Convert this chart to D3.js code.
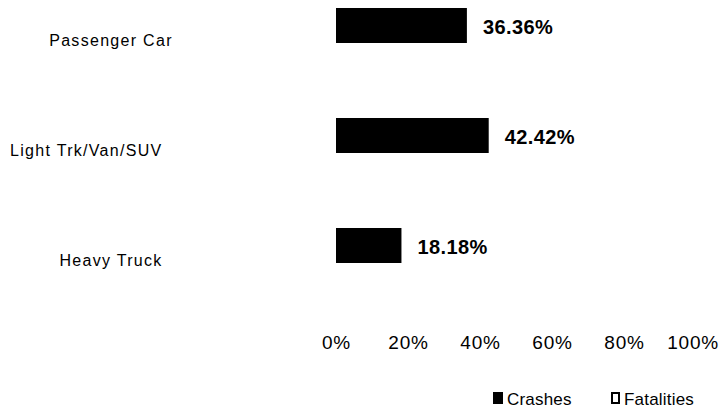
<!DOCTYPE html>
<html>
<head>
<meta charset="utf-8">
<script src="https://cdn.jsdelivr.net/npm/d3@7"></script>
<style>
  html, body { margin: 0; padding: 0; background: #fff; }
  svg { display: block; font-family: Arial, "Liberation Sans", sans-serif; }
</style>
</head>
<body>
<svg id="chart" width="721" height="408"></svg>
<script>
// Share of vehicle types involved in crashes vs. fatalities
const categories = ["Passenger Car", "Light Trk/Van/SUV", "Heavy Truck"];
const seriesNames = ["Crashes", "Fatalities"];
const crashes = [36.36, 42.42, 18.18];
const fatalities = [0, 0, 0];
const tickValues = [0, 20, 40, 60, 80, 100];

const svg = d3.select("#chart");
const W = 721, H = 408;

const x = d3.scaleLinear().domain([0, 100]).range([336, 696]);

// one band per vehicle type, split into the two series
const y0 = d3.scaleBand().domain(categories)
  .range([-12, 318]).paddingInner(0.3636).paddingOuter(0.1818);
const y1 = d3.scaleBand().domain(seriesNames).range([0, y0.bandwidth()]);

const fills = { Crashes: "#000", Fatalities: "#fff" };

const rows = categories.map((c, i) => ({
  category: c,
  values: [
    { series: "Crashes", value: crashes[i] },
    { series: "Fatalities", value: fatalities[i] }
  ]
}));

const groups = svg.append("g").selectAll("g")
  .data(rows).join("g")
  .attr("transform", d => `translate(0,${y0(d.category)})`);

groups.selectAll("rect")
  .data(d => d.values).join("rect")
  .attr("x", x(0))
  .attr("y", d => y1(d.series))
  .attr("width", d => x(d.value) - x(0))
  .attr("height", y1.bandwidth())
  .attr("fill", d => fills[d.series]);

// value labels on the crash bars
groups.selectAll("text.val")
  .data(d => d.values.filter(v => v.series === "Crashes"))
  .join("text")
  .attr("class", "val")
  .attr("x", d => x(d.value) + 16)
  .attr("y", d => y1(d.series) + y1.bandwidth() / 2)
  .attr("dy", "0.42em")
  .attr("font-size", 20)
  .attr("font-weight", "bold")
  .attr("letter-spacing", 0.4)
  .attr("fill", "#000")
  .text(d => d.value.toFixed(2) + "%");

// category labels, centred in the left margin; long ones start at the edge
const catG = svg.append("g");
categories.forEach(c => {
  const t = catG.append("text")
    .attr("y", y0(c) + y0.bandwidth() / 2)
    .attr("dy", "0.16em")
    .attr("font-size", 16)
    .attr("letter-spacing", 1.3)
    .attr("fill", "#000")
    .text(c);
  const w = t.node().getComputedTextLength();
  if (w > 130) t.attr("x", 10).attr("text-anchor", "start");
  else t.attr("x", 111 - w / 2).attr("text-anchor", "start");
});

// value axis along the bottom, labels only
const axis = svg.append("g")
  .attr("transform", "translate(0,330)")
  .call(d3.axisBottom(x).tickValues(tickValues).tickSize(0).tickPadding(0)
    .tickFormat(d => d + "%"));
axis.select(".domain").remove();
axis.selectAll("text")
  .attr("font-size", 19)
  .attr("letter-spacing", 0.8)
  .attr("font-family", "Arial, 'Liberation Sans', sans-serif")
  .attr("fill", "#000")
  .attr("dy", "1.0em")
  .each(function () {
    // keep the last label inside the canvas
    const bb = this.getBBox();
    const tr = d3.select(this.parentNode).attr("transform");
    const tx = +tr.match(/translate\(([-\d.]+)/)[1];
    const right = tx + bb.x + bb.width;
    if (right > W - 2) d3.select(this).attr("x", (W - 2) - right);
  });

// legend
const legend = svg.append("g");
const legendItems = [
  { name: "Crashes", x: 493 },
  { name: "Fatalities", x: 611 }
];
legendItems.forEach(item => {
  if (item.name === "Crashes") {
    legend.append("rect")
      .attr("x", item.x).attr("y", 392).attr("width", 10).attr("height", 12)
      .attr("fill", "#000");
  } else {
    legend.append("rect")
      .attr("x", item.x + 1).attr("y", 393).attr("width", 7).attr("height", 10)
      .attr("fill", "#fff").attr("stroke", "#000").attr("stroke-width", 2);
  }
  legend.append("text")
    .attr("x", item.x + (item.name === "Crashes" ? 14 : 13))
    .attr("y", 405)
    .attr("font-size", 17)
    .attr("letter-spacing", 0.2)
    .attr("fill", "#000")
    .text(item.name);
});
</script>
</body>
</html>
